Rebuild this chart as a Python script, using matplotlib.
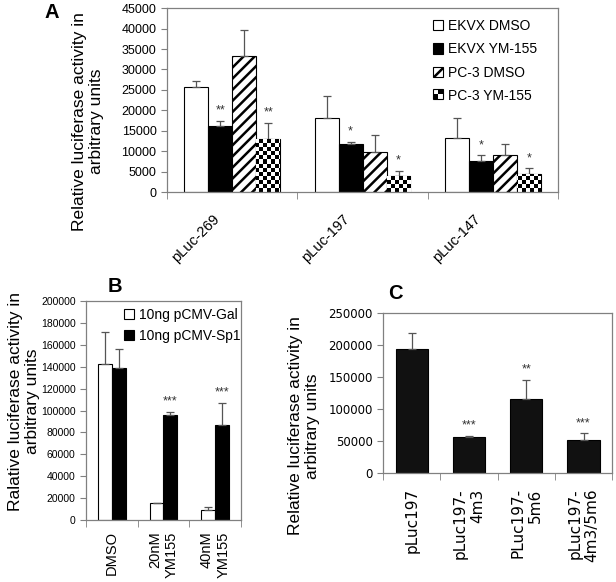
import matplotlib
matplotlib.use("Agg")
import matplotlib.pyplot as plt
import numpy as np
from matplotlib.patches import Rectangle, Patch
from matplotlib.transforms import ScaledTranslation

plt.rcParams['font.family'] = ['Liberation Sans', 'DejaVu Sans']
plt.rcParams['hatch.linewidth'] = 1.8

# ---- panel A data ----
a_groups = ["pLuc-269", "pLuc-197", "pLuc-147"]
a_series = ["EKVX DMSO", "EKVX YM-155", "PC-3 DMSO", "PC-3 YM-155"]
ekvx_dmso = [25800, 18000, 13300]
ekvx_dmso_err = [1400, 5400, 4700]
ekvx_ym = [16100, 11700, 7700]
ekvx_ym_err = [1400, 600, 1300]
pc3_dmso = [33200, 9900, 9000]
pc3_dmso_err = [6400, 4100, 2700]
pc3_ym = [13000, 4000, 4400]
pc3_ym_err = [3900, 1200, 1400]
a_stars = [["", "**", "", "**"], ["", "*", "", "*"], ["", "*", "", "*"]]

# ---- panel B data ----
b_groups = ["DMSO", "20nM\nYM155", "40nM\nYM155"]
b_gal = [143000, 16000, 9000]
b_gal_err = [29000, 0, 3000]
b_sp1 = [139000, 96000, 87000]
b_sp1_err = [17000, 3000, 20000]
b_stars = ["", "***", "***"]

# ---- panel C data ----
c_groups = ["pLuc197", "pLuc197-\n4m3", "PLuc197-\n5m6", "pLuc197-\n4m3/5m6"]
c_vals = [194000, 57000, 116000, 52000]
c_err = [24000, 1000, 30000, 10000]
c_stars = ["", "***", "**", "***"]

fig = plt.figure(figsize=(6.16, 5.82), dpi=100)
GREY = '#808080'


def excel_axes(ax, n):
    for sp in ax.spines.values():
        sp.set_color(GREY)
        sp.set_linewidth(0.9)
    ax.set_xlim(0, n)
    ax.set_xticks(np.arange(n) + 0.5)
    ax.set_xticks(np.arange(n + 1), minor=True)
    ax.tick_params(axis='x', which='major', length=0)
    ax.tick_params(axis='x', which='minor', length=5, color=GREY)
    ax.tick_params(axis='y', length=4, color=GREY)


def err_stars(ax, xs, vals, errs, stars, fs):
    ax.errorbar(xs, vals, yerr=[np.zeros(len(vals)), errs], fmt='none',
                ecolor='#555555', elinewidth=0.9, capsize=3, capthick=0.9)
    for x, v, e, s in zip(xs, vals, errs, stars):
        if s:
            ax.annotate(s, (x, v + e), xytext=(0, 3), textcoords='offset points',
                        ha='center', va='bottom', fontsize=fs, color='#333333')


# ================= Panel A =================
axA = fig.add_axes([0.271, 0.670, 0.635, 0.316])
excel_axes(axA, 3)
w = 0.184
x0 = np.arange(3) + 0.5
offs = np.array([-1.5, -0.5, 0.5, 1.5]) * w
series_vals = [ekvx_dmso, ekvx_ym, pc3_dmso, pc3_ym]
series_err = [ekvx_dmso_err, ekvx_ym_err, pc3_dmso_err, pc3_ym_err]

axA.bar(x0 + offs[0], ekvx_dmso, w, color='white', edgecolor='black', linewidth=0.8)
axA.bar(x0 + offs[1], ekvx_ym, w, color='black', edgecolor='black', linewidth=0.8)
axA.bar(x0 + offs[2], pc3_dmso, w, color='white', edgecolor='black', hatch='///', linewidth=0.8)
chk_bars = axA.bar(x0 + offs[3], pc3_ym, w, color='white', edgecolor='black', linewidth=0.8)

# checkerboard fill clipped to each bar (about 4 px squares)
ny, nx = 46, 98
board = (np.add.outer(np.arange(ny), np.arange(nx)) % 2).astype(float)
for b in chk_bars:
    im = axA.imshow(board, cmap='gray', extent=[0, 1, 0, 1], transform=axA.transAxes,
                    interpolation='nearest', aspect='auto', zorder=2.5)
    im.set_clip_path(b)
axA.set_xlim(0, 3)

for k in range(4):
    err_stars(axA, x0 + offs[k], series_vals[k], series_err[k], [s[k] for s in a_stars], 9)

axA.set_ylim(0, 45000)
axA.set_yticks(np.arange(0, 45001, 5000))
axA.tick_params(axis='y', labelsize=9)
axA.set_xticklabels(a_groups, rotation=45, ha='right', va='top', rotation_mode='anchor',
                    fontsize=10.5)
axA.tick_params(axis='x', which='major', pad=14.5)
for t in axA.get_xticklabels():
    t.set_transform(t.get_transform() + ScaledTranslation(-0.2, 0, fig.dpi_scale_trans))
axA.set_ylabel("Relative luciferase activity in\narbitrary units", fontsize=12.5)
axA.yaxis.set_label_coords(-0.161, 0.386)


class CheckerHandler:
    def legend_artist(self, legend, orig_handle, fontsize, handlebox):
        x, y = handlebox.xdescent, handlebox.ydescent
        wd, ht = handlebox.width, handlebox.height
        tr = handlebox.get_transform()
        handlebox.add_artist(Rectangle((x, y), wd, ht, fc='white', ec='black', lw=0.8, transform=tr))
        for i in range(2):
            for j in range(2):
                if (i + j) % 2 == 0:
                    handlebox.add_artist(Rectangle((x + i * wd / 2, y + j * ht / 2), wd / 2, ht / 2,
                                                   fc='black', ec='none', transform=tr))
        return handlebox


h_chk = Patch(fc='white', ec='black', label=a_series[3])
handles = [Patch(fc='white', ec='black', lw=0.8, label=a_series[0]),
           Patch(fc='black', ec='black', lw=0.8, label=a_series[1]),
           Patch(fc='white', ec='black', lw=0.8, hatch='///', label=a_series[2]),
           h_chk]
axA.legend(handles=handles, handler_map={h_chk: CheckerHandler()}, frameon=False,
           loc='upper left', bbox_to_anchor=(0.68, 0.94), fontsize=10,
           borderpad=0, borderaxespad=0,
           handlelength=0.75, handleheight=0.75, handletextpad=0.3, labelspacing=0.66)
fig.text(0.073, 0.995, "A", fontsize=14.5, fontweight='bold', va='top')

# ================= Panel B =================
axB = fig.add_axes([0.1396, 0.1065, 0.2516, 0.376])
excel_axes(axB, 3)
wb = 0.27
xb = np.arange(3) + 0.5
axB.bar(xb - wb / 2, b_gal, wb, color='white', edgecolor='black', linewidth=0.8,
        label="10ng pCMV-Gal")
axB.bar(xb + wb / 2, b_sp1, wb, color='black', edgecolor='black', linewidth=0.8,
        label="10ng pCMV-Sp1")
err_stars(axB, xb - wb / 2, b_gal, b_gal_err, ["", "", ""], 9)
err_stars(axB, xb + wb / 2, b_sp1, b_sp1_err, b_stars, 9)
axB.set_ylim(0, 200000)
axB.set_yticks(np.arange(0, 200001, 20000))
axB.tick_params(axis='y', labelsize=7.5)
axB.set_xticklabels(b_groups, rotation=90, va='top', ha='center', multialignment='right',
                    fontsize=10.5)
axB.tick_params(axis='x', which='major', pad=8)
axB.set_ylabel("Ralative luciferase activity in\narbitrary units", fontsize=12.5)
axB.yaxis.set_label_coords(-0.297, 0.543)
axB.legend(frameon=False, loc='upper left', bbox_to_anchor=(0.245, 0.97), fontsize=10,
           borderpad=0, borderaxespad=0,
           handlelength=0.75, handleheight=0.75, handletextpad=0.3, labelspacing=0.5)
fig.text(0.174, 0.524, "B", fontsize=14.5, fontweight='bold', va='top')

# ================= Panel C =================
axC = fig.add_axes([0.6218, 0.1873, 0.372, 0.275])
excel_axes(axC, 4)
xc = np.arange(4) + 0.5
axC.bar(xc, c_vals, 0.56, color='#111111', edgecolor='black', linewidth=0.8)
err_stars(axC, xc, c_vals, c_err, c_stars, 9)
axC.set_ylim(0, 250000)
axC.set_yticks(np.arange(0, 250001, 50000))
for t in axC.get_yticklabels():
    t.set_family('DejaVu Sans')
axC.tick_params(axis='y', labelsize=8.5)
axC.set_xticklabels(c_groups, rotation=90, va='top', ha='center', multialignment='right',
                    fontsize=11, family='DejaVu Sans')
axC.tick_params(axis='x', which='major', pad=11)
axC.set_ylabel("Relative luciferase activity in\narbitrary units", fontsize=12.5)
axC.yaxis.set_label_coords(-0.275, 0.294)
fig.text(0.630, 0.512, "C", fontsize=14.5, fontweight='bold', va='top')

fig.savefig("out.png", dpi=100)
